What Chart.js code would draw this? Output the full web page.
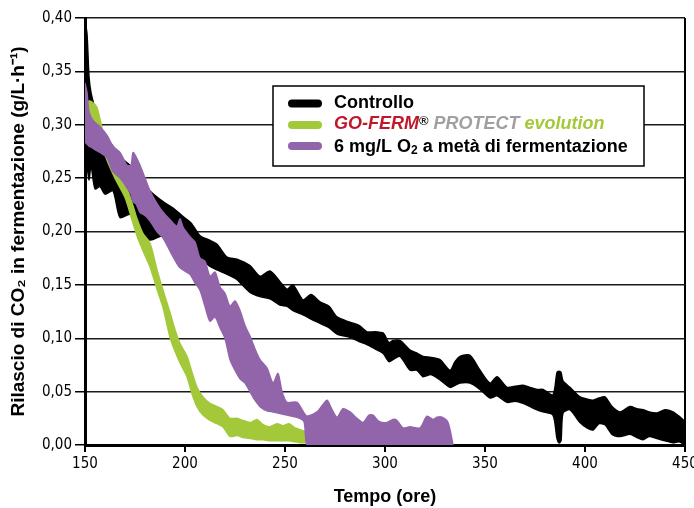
<!DOCTYPE html>
<html>
<head>
<meta charset="utf-8">
<script src="https://cdn.jsdelivr.net/npm/chart.js@4.4.1/dist/chart.umd.min.js"></script>
<style>
  body { margin: 0; background: #fff; }
  #chart { display: block; }
</style>
</head>
<body>
<canvas id="chart" width="694" height="508"></canvas>
<script>
// axis ticks
const xTicks = [150, 200, 250, 300, 350, 400, 450];
const yTicks = [0, 0.05, 0.10, 0.15, 0.20, 0.25, 0.30, 0.35, 0.40];

// Controllo (black band: upper and lower edge)
const ctrlX = [150, 151, 152, 153, 155, 157.5, 160, 164, 167.5, 172.5, 177.5, 182.5, 189, 194, 199, 203, 207.5, 212, 216, 221, 226, 232.5, 237.5, 242.5, 247.5, 251, 254, 259, 263, 267.5, 272, 276, 282.5, 287, 291, 295, 299, 302, 304, 307.5, 312.5, 316, 319, 323, 327.5, 332.5, 335, 337.5, 342.5, 347.5, 352.5, 356, 361, 365, 369, 372.5, 376, 379, 384, 386, 387, 388, 389, 392.5, 397.5, 401, 404, 407, 410, 413.5, 417.5, 422.5, 426, 429, 432, 436, 440, 444, 447, 450];
const ctrlHigh = [0.398, 0.385, 0.345, 0.33, 0.315, 0.300, 0.288, 0.280, 0.270, 0.262, 0.250, 0.238, 0.228, 0.222, 0.214, 0.208, 0.196, 0.192, 0.188, 0.176, 0.174, 0.168, 0.158, 0.163, 0.153, 0.146, 0.150, 0.136, 0.141, 0.134, 0.130, 0.120, 0.115, 0.112, 0.106, 0.106, 0.105, 0.096, 0.098, 0.098, 0.089, 0.086, 0.083, 0.082, 0.080, 0.070, 0.078, 0.083, 0.084, 0.070, 0.058, 0.064, 0.054, 0.055, 0.056, 0.054, 0.052, 0.052, 0.047, 0.068, 0.069, 0.068, 0.060, 0.054, 0.045, 0.043, 0.042, 0.044, 0.045, 0.036, 0.031, 0.036, 0.034, 0.033, 0.031, 0.030, 0.033, 0.031, 0.027, 0.022];
const ctrlLow = [0.232, 0.262, 0.248, 0.262, 0.240, 0.242, 0.235, 0.238, 0.213, 0.216, 0.203, 0.192, 0.196, 0.188, 0.180, 0.182, 0.176, 0.168, 0.164, 0.160, 0.155, 0.143, 0.139, 0.137, 0.131, 0.130, 0.126, 0.122, 0.118, 0.114, 0.110, 0.104, 0.101, 0.097, 0.094, 0.090, 0.086, 0.078, 0.080, 0.083, 0.070, 0.070, 0.064, 0.066, 0.061, 0.054, 0.056, 0.058, 0.058, 0.052, 0.044, 0.046, 0.040, 0.041, 0.039, 0.036, 0.033, 0.031, 0.028, 0.006, 0.002, 0.004, 0.030, 0.033, 0.021, 0.016, 0.014, 0.020, 0.019, 0.010, 0.008, 0.010, 0.007, 0.005, 0.008, 0.006, 0.004, 0.002, 0.003, 0.000];

// 6 mg/L O2 (purple band)
const oxyX = [150, 151, 152, 154, 157.5, 161, 164, 167.5, 171, 173, 174, 175.5, 177.5, 180, 182.5, 186, 189, 193, 196, 197.5, 199, 202.5, 205, 207.5, 210, 212.5, 215, 217.5, 220, 222.5, 225, 227.5, 230, 232.5, 235, 237.5, 241, 244, 246.5, 248.5, 251, 256, 259.5, 261, 266, 271, 273, 276, 279, 282.5, 286, 289, 292, 294, 297, 301, 304, 306, 309, 312.5, 317.5, 321, 324, 326, 328.5, 331.5, 333.5, 334];
const oxyHigh = [0.339, 0.330, 0.312, 0.304, 0.298, 0.290, 0.280, 0.274, 0.262, 0.262, 0.274, 0.270, 0.262, 0.250, 0.238, 0.226, 0.218, 0.210, 0.205, 0.212, 0.204, 0.195, 0.190, 0.175, 0.172, 0.158, 0.162, 0.148, 0.142, 0.130, 0.135, 0.126, 0.112, 0.102, 0.090, 0.080, 0.072, 0.058, 0.067, 0.050, 0.040, 0.040, 0.030, 0.027, 0.031, 0.042, 0.035, 0.026, 0.034, 0.031, 0.025, 0.021, 0.028, 0.028, 0.022, 0.021, 0.024, 0.023, 0.016, 0.017, 0.016, 0.027, 0.024, 0.026, 0.026, 0.021, 0.005, 0];
const oxyLow = [0.284, 0.282, 0.280, 0.278, 0.274, 0.269, 0.256, 0.250, 0.241, 0.235, 0.228, 0.226, 0.218, 0.215, 0.210, 0.200, 0.194, 0.180, 0.170, 0.166, 0.164, 0.160, 0.152, 0.145, 0.130, 0.116, 0.120, 0.110, 0.100, 0.080, 0.070, 0.062, 0.058, 0.050, 0.042, 0.036, 0.032, 0.031, 0.030, 0.029, 0.028, 0.026, 0.022, 0, 0, 0, 0, 0, 0, 0, 0, 0, 0, 0, 0, 0, 0, 0, 0, 0, 0, 0, 0, 0, 0, 0, 0, 0];

// GO-FERM PROTECT evolution (green band)
const gfX = [151, 153, 156, 160, 165, 170, 174, 176, 179, 182.5, 186, 189, 192.5, 195, 197.5, 201, 203.5, 206, 209, 212.5, 216, 219, 222.5, 226, 229, 233, 236, 239, 242.5, 246, 249, 252, 255, 258, 260.5, 261];
const gfHigh = [0.322, 0.322, 0.316, 0.285, 0.262, 0.245, 0.224, 0.212, 0.198, 0.189, 0.164, 0.145, 0.124, 0.108, 0.095, 0.083, 0.068, 0.054, 0.045, 0.039, 0.036, 0.033, 0.025, 0.025, 0.023, 0.021, 0.024, 0.019, 0.017, 0.020, 0.018, 0.020, 0.016, 0.014, 0.012, 0];
const gfLow = [0.305, 0.306, 0.300, 0.272, 0.250, 0.232, 0.208, 0.196, 0.182, 0.167, 0.146, 0.129, 0.101, 0.088, 0.077, 0.064, 0.048, 0.036, 0.028, 0.023, 0.020, 0.017, 0.008, 0.009, 0.007, 0.006, 0.005, 0.005, 0.004, 0.004, 0.004, 0.004, 0.003, 0.002, 0.002, 0];

const black = '#000000';
const green = '#a3c93a';
const purple = '#9265aa';

function pts(xs, ys) {
  return xs.map((x, i) => ({x: x, y: ys[i]}));
}

// upper edge fills down to the lower edge (next dataset)
function band(xs, hi, lo, color) {
  const common = {
    borderColor: color,
    borderWidth: 1.5,
    pointRadius: 0,
    tension: 0.25
  };
  return [
    Object.assign({data: pts(xs, hi), fill: '+1', backgroundColor: color}, common),
    Object.assign({data: pts(xs, lo), fill: false}, common)
  ];
}

// first in the list is drawn on top
const datasets = [].concat(
  band(oxyX, oxyHigh, oxyLow, purple),
  band(gfX, gfHigh, gfLow, green),
  band(ctrlX, ctrlHigh, ctrlLow, black)
);

// the boxed legend inside the plot
const legendBox = {
  id: 'legendBox',
  afterDraw(chart) {
    const ctx = chart.ctx;
    ctx.save();
    ctx.fillStyle = '#fff';
    ctx.fillRect(273, 86, 371, 80);
    ctx.strokeStyle = '#000';
    ctx.lineWidth = 1.5;
    ctx.strokeRect(273, 86, 371, 80);

    const rows = [[103.5, black], [125, green], [146, purple]];
    ctx.lineCap = 'round';
    ctx.lineWidth = 8;
    rows.forEach(r => {
      ctx.strokeStyle = r[1];
      ctx.beginPath();
      ctx.moveTo(292, r[0]);
      ctx.lineTo(318, r[0]);
      ctx.stroke();
    });

    ctx.textBaseline = 'alphabetic';
    ctx.textAlign = 'left';
    const fam = '"Liberation Sans", Arial, sans-serif';
    let x = 334;

    // row 1
    ctx.font = 'bold 18px ' + fam;
    ctx.fillStyle = '#000';
    ctx.fillText('Controllo', x, 107.5);

    // row 2
    const parts = [
      ['GO-FERM', 'italic bold 18px ', '#c0182a', 0],
      ['\u00AE', 'bold 13px ', '#222', -4],
      [' PROTECT', 'italic bold 18px ', '#a0a0a2', 0],
      [' evolution', 'italic bold 18px ', green, 0]
    ];
    x = 334;
    parts.forEach(p => {
      ctx.font = p[1] + fam;
      ctx.fillStyle = p[2];
      ctx.fillText(p[0], x, 129 + p[3]);
      x += ctx.measureText(p[0]).width;
    });

    // row 3
    x = 334;
    ctx.fillStyle = '#000';
    ctx.font = 'bold 18px ' + fam;
    ctx.fillText('6 mg/L O', x, 151.5);
    x += ctx.measureText('6 mg/L O').width;
    ctx.font = 'bold 12px ' + fam;
    ctx.fillText('2', x, 154);
    x += ctx.measureText('2').width;
    ctx.font = 'bold 18px ' + fam;
    ctx.fillText(' a met\u00E0 di fermentazione', x, 151.5);
    ctx.restore();
  }
};

const tickFont = {family: '"DejaVu Sans Condensed", "Liberation Sans Narrow", sans-serif', size: 15};
const titleFam = '"Liberation Sans", Arial, sans-serif';

new Chart(document.getElementById('chart'), {
  type: 'line',
  data: {datasets: datasets},
  options: {
    responsive: false,
    animation: false,
    layout: {padding: {top: 18, right: 9, left: 0, bottom: 0}},
    plugins: {
      legend: {display: false},
      tooltip: {enabled: false}
    },
    scales: {
      x: {
        type: 'linear',
        min: 150,
        max: 450,
        afterBuildTicks: s => { s.ticks = xTicks.map(v => ({value: v})); },
        afterFit: s => { s.height = 63; s.paddingLeft = 0; s.paddingRight = 0; },
        ticks: {
          color: '#000',
          font: tickFont,
          padding: 3,
          maxRotation: 0,
          callback: v => String(v)
        },
        grid: {
          color: c => (c.tick && c.tick.value === 450) ? '#000' : 'rgba(0,0,0,0)',
          lineWidth: 2,
          tickColor: '#000',
          tickLength: 7
        },
        border: {display: true, color: '#000', width: 3},
        title: {
          display: true,
          text: 'Tempo (ore)',
          color: '#000',
          font: {family: titleFam, size: 18, weight: 'bold'},
          padding: {top: 0, bottom: 0}
        }
      },
      y: {
        min: 0,
        max: 0.4,
        afterBuildTicks: s => { s.ticks = yTicks.map(v => ({value: v})); },
        afterFit: s => { s.width = 85; s.paddingTop = 0; s.paddingBottom = 0; },
        ticks: {
          color: '#000',
          font: tickFont,
          padding: 3,
          callback: v => v.toFixed(2).replace('.', ',')
        },
        grid: {
          color: '#1a1a1a',
          lineWidth: 1.5,
          tickColor: '#000',
          tickLength: 10
        },
        border: {display: true, color: '#000', width: 3},
        title: {
          display: true,
          text: 'Rilascio di CO\u2082 in fermentazione (g/L\u00B7h\u207B\u00B9)',
          color: '#000',
          font: {family: titleFam, size: 19, weight: 'bold'},
          padding: {top: 7, bottom: 0}
        }
      }
    }
  },
  plugins: [legendBox]
});
</script>
</body>
</html>
